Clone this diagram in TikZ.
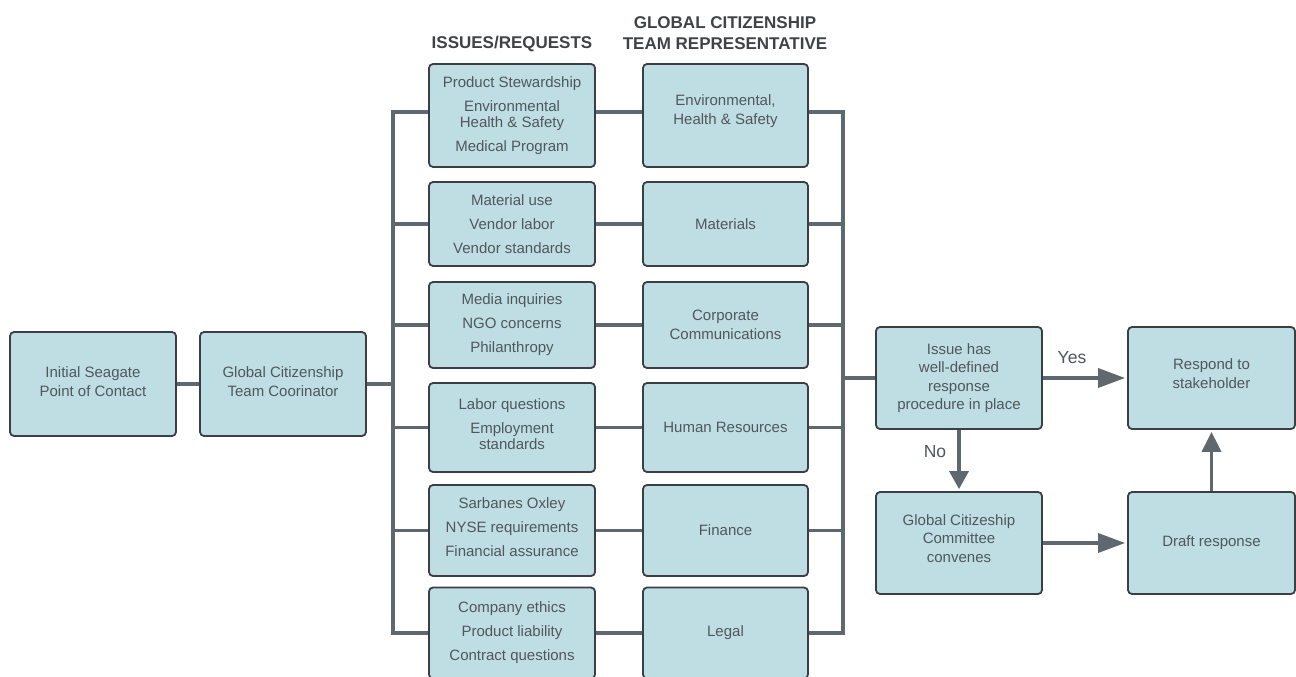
\documentclass[tikz,border=0pt]{standalone}
\usepackage{fontspec}
\setmainfont{Liberation Sans}
\usetikzlibrary{arrows.meta}
\definecolor{boxfill}{HTML}{BFDEE3}
\definecolor{boxline}{HTML}{3A3F43}
\definecolor{conn}{HTML}{5F686E}
\definecolor{txt}{HTML}{50575C}
\definecolor{hdrc}{HTML}{3F4346}
\begin{document}
\begin{tikzpicture}[x=1pt,y=-1pt,
  box/.style={draw=boxline, line width=1.8pt, fill=boxfill, rounded corners=4pt,
    align=center, text=txt, font=\fontsize{15}{18.5}\selectfont, inner sep=2pt,
    minimum width=166pt},
  ibox/.style={box, font=\fontsize{15}{16}\selectfont},
  connline/.style={draw=conn, line width=3.5pt},
  arr/.style={connline, -{Triangle[length=#1,width=19pt]}, shorten >=2pt},
  lbl/.style={text=txt, font=\fontsize{17.5}{20}\selectfont, inner sep=0pt},
  hdr/.style={text=hdrc, font=\bfseries\fontsize{17}{21.5}\selectfont, inner sep=0pt, align=center}]
\useasboundingbox (0,0) rectangle (1296,677);

% headers
\node[hdr] (h1) at (512,44) {ISSUES/REQUESTS};
\node[hdr] (h2) at (725,33) {GLOBAL CITIZENSHIP\\TEAM REPRESENTATIVE};

% left boxes
\node[box, minimum height=104pt, text depth=5pt] (A) at (93,384) {Initial Seagate\\Point of Contact};
\node[box, minimum height=104pt, text depth=5pt] (B) at (283,384) {Global Citizenship\\Team Coorinator};

% issues column
\node[ibox, minimum height=103pt] (i1) at (512,115.5) {Product Stewardship\\[8pt]Environmental\\Health \& Safety\\[8pt]Medical Program};
\node[ibox, minimum height=84pt] (i2) at (512,224) {Material use\\[8pt]Vendor labor\\[8pt]Vendor standards};
\node[ibox, minimum height=86pt] (i3) at (512,325) {Media inquiries\\[8pt]NGO concerns\\[8pt]Philanthropy};
\node[ibox, minimum height=89pt, text depth=6pt] (i4) at (512,427.5) {Labor questions\\[8pt]Employment\\standards};
\node[ibox, minimum height=91pt, text depth=6pt] (i5) at (512,530.5) {Sarbanes Oxley\\[8pt]NYSE requirements\\[8pt]Financial assurance};
\node[ibox, minimum height=91pt] (i6) at (512,633) {Company ethics\\[8pt]Product liability\\[8pt]Contract questions};

% representative column
\node[box, minimum width=165pt, minimum height=103pt, text depth=12pt] (r1) at (725.5,115.5) {Environmental,\\Health \& Safety};
\node[box, minimum width=165pt, minimum height=84pt] (r2) at (725.5,224) {Materials};
\node[box, minimum width=165pt, minimum height=86pt] (r3) at (725.5,325) {Corporate\\Communications};
\node[box, minimum width=165pt, minimum height=89pt] (r4) at (725.5,427.5) {Human Resources};
\node[box, minimum width=165pt, minimum height=91pt] (r5) at (725.5,530.5) {Finance};
\node[box, minimum width=165pt, minimum height=91pt] (r6) at (725.5,633) {Legal};

% right flow
\node[box, minimum height=102pt] (D) at (959,378) {Issue has\\well-defined\\response\\procedure in place};
\node[box, minimum width=167pt, minimum height=102pt, text depth=9pt] (R) at (1211.5,378) {Respond to\\stakeholder};
\node[box, minimum height=102pt, text depth=9pt] (C) at (959,543) {Global Citizeship\\Committee\\convenes};
\node[box, minimum width=167pt, minimum height=102pt] (Dr) at (1211.5,543) {Draft response};

\coordinate (LB) at (393,384);
\coordinate (RB) at (843,378);

% connectors left
\draw[connline] (A) -- (B);
\draw[connline] (B) -- (LB);
\draw[connline] ([yshift=3.5pt]i1.west) -| (LB) |- (i6.west);
\foreach \k in {2,3,4,5} {\draw[connline] (i\k.west -| LB) -- (i\k.west);}
\draw[connline] ([yshift=3.5pt]i1.east) -- ([yshift=3.5pt]r1.west);
\foreach \k in {2,3,4,5,6} {\draw[connline] (i\k) -- (r\k);}
% connectors right
\draw[connline] ([yshift=3.5pt]r1.east) -| (RB) |- (r6.east);
\foreach \k in {2,3,4,5} {\draw[connline] (r\k.east) -- (r\k.east -| RB);}
\draw[connline] (RB) -- (D);

% arrows
\draw[arr=27pt] (D) -- (R);
\draw[arr=27pt] (C) -- (Dr);
\draw[arr=18pt] (D) -- (C);
\draw[arr=20pt] (Dr) -- (R);

\node[lbl] (yes) at (1072,358) {Yes};
\node[lbl] (no) at (935,452) {No};
\end{tikzpicture}
\end{document}
